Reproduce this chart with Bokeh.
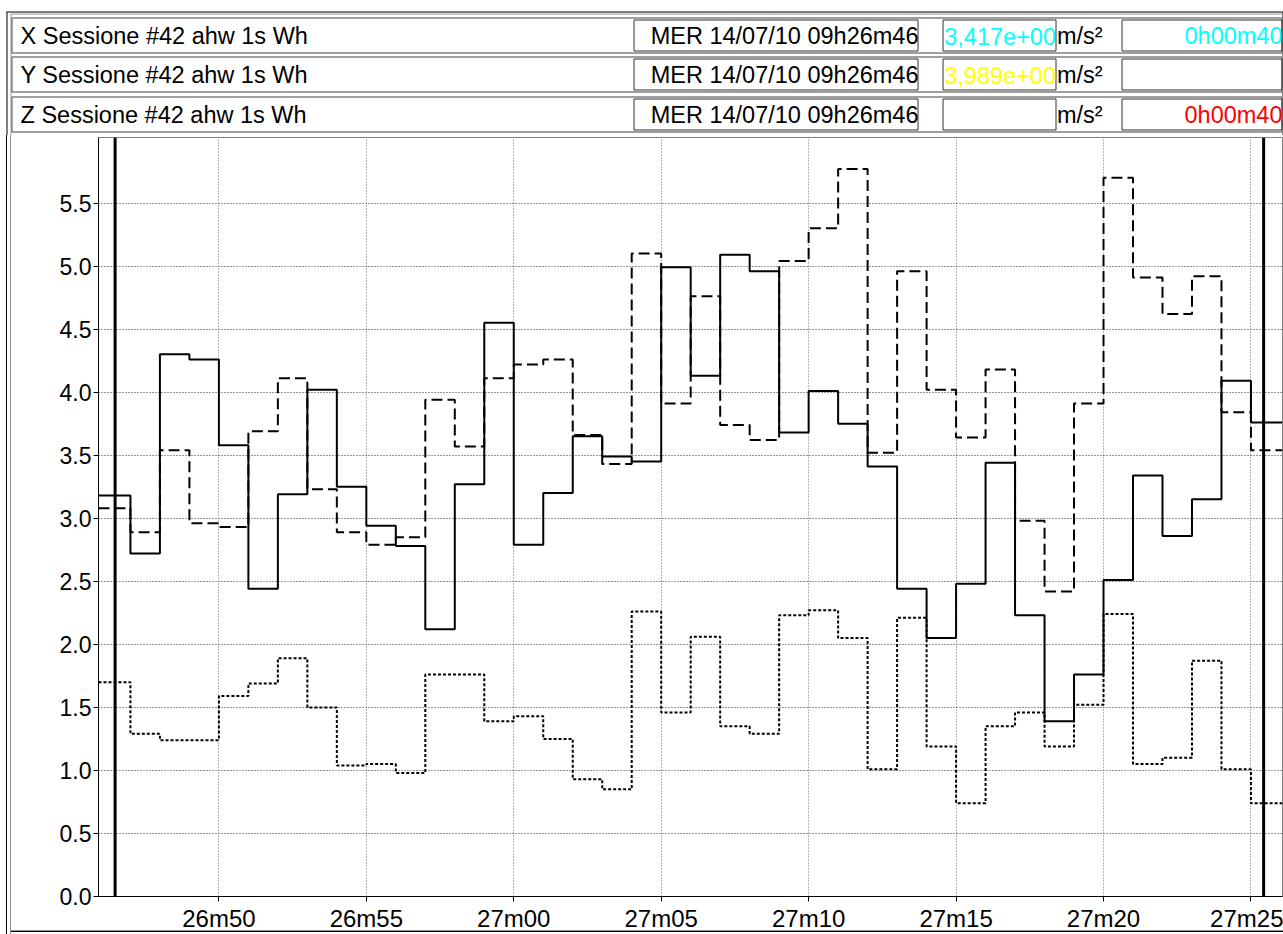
from bokeh.plotting import figure
from bokeh.layouts import column
from bokeh.models import Range1d, FixedTicker, Span, PrintfTickFormatter, ColumnDataSource
from bokeh.core.properties import value
from bokeh.embed import file_html
from bokeh.resources import INLINE

# ---------------- data ----------------
# seconds after 09h26m00 (one sample per second)
times = list(range(46, 86))
x_vals = [3.18, 2.72, 4.30, 4.26, 3.58, 2.44, 3.19, 4.02, 3.25, 2.94,
          2.78, 2.12, 3.27, 4.55, 2.79, 3.20, 3.65, 3.49, 3.45, 4.99,
          4.13, 5.09, 4.96, 3.68, 4.01, 3.75, 3.41, 2.44, 2.05, 2.48,
          3.44, 2.23, 1.39, 1.76, 2.51, 3.34, 2.86, 3.15, 4.09, 3.76]
y_vals = [3.08, 2.89, 3.54, 2.96, 2.93, 3.69, 4.11, 3.23, 2.89, 2.79,
          2.85, 3.94, 3.57, 4.11, 4.22, 4.26, 3.66, 3.43, 5.10, 3.91,
          4.76, 3.74, 3.62, 5.04, 5.30, 5.77, 3.52, 4.96, 4.02, 3.64,
          4.18, 2.98, 2.42, 3.91, 5.70, 4.91, 4.62, 4.92, 3.84, 3.54]
z_vals = [1.70, 1.29, 1.24, 1.24, 1.59, 1.69, 1.89, 1.50, 1.04, 1.05,
          0.98, 1.76, 1.76, 1.39, 1.43, 1.25, 0.93, 0.85, 2.26, 1.46,
          2.06, 1.35, 1.29, 2.23, 2.27, 2.05, 1.01, 2.21, 1.19, 0.74,
          1.35, 1.46, 1.19, 1.52, 2.24, 1.05, 1.10, 1.87, 1.01, 0.74]

tick_seconds = [50, 55, 60, 65, 70, 75, 80, 85]
tick_labels = ["26m50", "26m55", "27m00", "27m05", "27m10", "27m15", "27m20", "27m25"]
y_ticks = [0.0, 0.5, 1.0, 1.5, 2.0, 2.5, 3.0, 3.5, 4.0, 4.5, 5.0, 5.5]
cursor_times = [46.48, 85.43]

row_labels = ["X Sessione #42  ahw 1s  Wh", "Y Sessione #42  ahw 1s  Wh", "Z Sessione #42  ahw 1s  Wh"]
row_dates = ["MER 14/07/10 09h26m46", "MER 14/07/10 09h26m46", "MER 14/07/10 09h26m46"]
row_values = ["3,417e+00", "3,989e+00", ""]
row_value_colors = ["#00FFFF", "#FFFF00", "#000000"]
row_units = ["m/s²", "m/s²", "m/s²"]
row_durations = ["0h00m40", "", "0h00m40"]
row_duration_colors = ["#00FFFF", "#000000", "#FF0000"]

# ---------------- layout constants ----------------
W = 1283
HH = 135
MH = 799
X_START, X_END = 45.917, 86.07
Y_END = 6.02
FONT = value("Liberation Sans")

# ---------------- header ----------------
hdr = figure(width=W, height=HH, x_range=Range1d(0, W), y_range=Range1d(HH, 0),
             x_axis_type=None, y_axis_type=None, toolbar_location=None,
             output_backend="svg", min_border=0, outline_line_color=None)
hdr.grid.visible = False
hdr.background_fill_color = None
hdr.border_fill_color = None

# outer frame lines
hdr.segment(x0=[6, 10.5, 6.5, 10.5, W - 0.5], y0=[11.5, 13.5, 11.5, 13.5, 11.5],
            x1=[W, W - 1, 6.5, 10.5, W - 0.5], y1=[11.5, 13.5, HH, HH, HH],
            line_color=["#000000", "#909090", "#000000", "#909090", "#000000"], line_width=1)

row_tops = [17.5, 56.5, 96.5]
row_h = 35
row_bottoms = [t + row_h for t in row_tops]
hdr.quad(left=11.5, right=W - 1.5, top=row_tops, bottom=row_bottoms,
         fill_color=None, line_color="#808080", line_width=1.5)
# inner boxes
for l, r in [(633.5, 917.5), (942.5, 1055.5), (1121.5, 1281.5)]:
    hdr.quad(left=l, right=r, top=[t + 2 for t in row_tops], bottom=[b - 2 for b in row_bottoms],
             fill_color=None, line_color="#303030", line_width=1)

cy = [t + row_h / 2 + 0.5 for t in row_tops]
src = ColumnDataSource(dict(y=cy, lab=row_labels, date=row_dates, val=row_values,
                            vcol=row_value_colors, unit=row_units, dur=row_durations,
                            dcol=row_duration_colors))
common = dict(text_font=FONT, text_font_size="23.5px", text_baseline="middle", source=src)
hdr.text(x=20, y="y", text="lab", text_align="left", text_color="black", **common)
hdr.text(x=918, y="y", text="date", text_align="right", text_color="black", **common)
hdr.text(x=1055.5, y="y", text="val", text_align="right", text_color="vcol", **common)
hdr.text(x=1056.5, y="y", text="unit", text_align="left", text_color="black", **common)
hdr.text(x=1282, y="y", text="dur", text_align="right", text_color="dcol", **common)

# ---------------- main chart ----------------
p = figure(width=W, height=MH, x_range=Range1d(X_START, X_END), y_range=Range1d(0, Y_END),
           toolbar_location=None, output_backend="svg",
           min_border_left=98, min_border_right=1, min_border_top=2, min_border_bottom=36)
p.border_fill_color = None
p.background_fill_color = "white"
p.outline_line_color = "#808080"
p.styles = {"box-shadow": "inset 6px 0 0 0 #fff, inset 7px 0 0 0 #000, inset 10px 0 0 0 #fff, "
                          "inset 11px 0 0 0 #909090, "
                          "inset 0 -2px 0 0 #fff, inset 0 -3px 0 0 #000, inset 0 -4px 0 0 #909090"}

for fig in (hdr, p):
    if "frame_align" in fig.properties():
        fig.frame_align = False

p.xaxis.ticker = FixedTicker(ticks=tick_seconds)
p.xaxis.major_label_overrides = {t: s for t, s in zip(tick_seconds, tick_labels)}
p.yaxis.ticker = FixedTicker(ticks=y_ticks)
p.yaxis.formatter = PrintfTickFormatter(format="%.1f")
for ax in (p.xaxis[0], p.yaxis[0]):
    ax.axis_line_color = "black"
    ax.axis_line_width = 1
    ax.major_tick_out = 5
    ax.major_tick_in = 0
    ax.minor_tick_out = 0
    ax.minor_tick_in = 0
    ax.major_tick_line_color = "black"
    ax.major_label_text_font = "Liberation Sans"
    ax.major_label_text_color = "black"
p.xaxis.major_label_text_font_size = "24px"
p.yaxis.major_label_text_font_size = "23px"
p.xaxis.major_label_standoff = 3
p.yaxis.major_label_standoff = 2

p.ygrid.grid_line_color = "#303030"
p.ygrid.grid_line_dash = "1 2"
p.xgrid.grid_line_color = "#707070"
p.xgrid.grid_line_dash = "1 2"

xs = [X_START] + times[1:] + [X_END]
p.step(xs, z_vals + [z_vals[-1]], mode="after", line_color="black", line_width=2, line_dash="3 2")
p.step(xs, y_vals + [y_vals[-1]], mode="after", line_color="black", line_width=2, line_dash="11 5")
p.step(xs, x_vals + [x_vals[-1]], mode="after", line_color="black", line_width=2)

for ct in cursor_times:
    p.add_layout(Span(location=ct, dimension="height", line_color="black", line_width=3))

layout = column(hdr, p, spacing=0)
open("out.html", "w").write(file_html(layout, INLINE, title="chart"))
